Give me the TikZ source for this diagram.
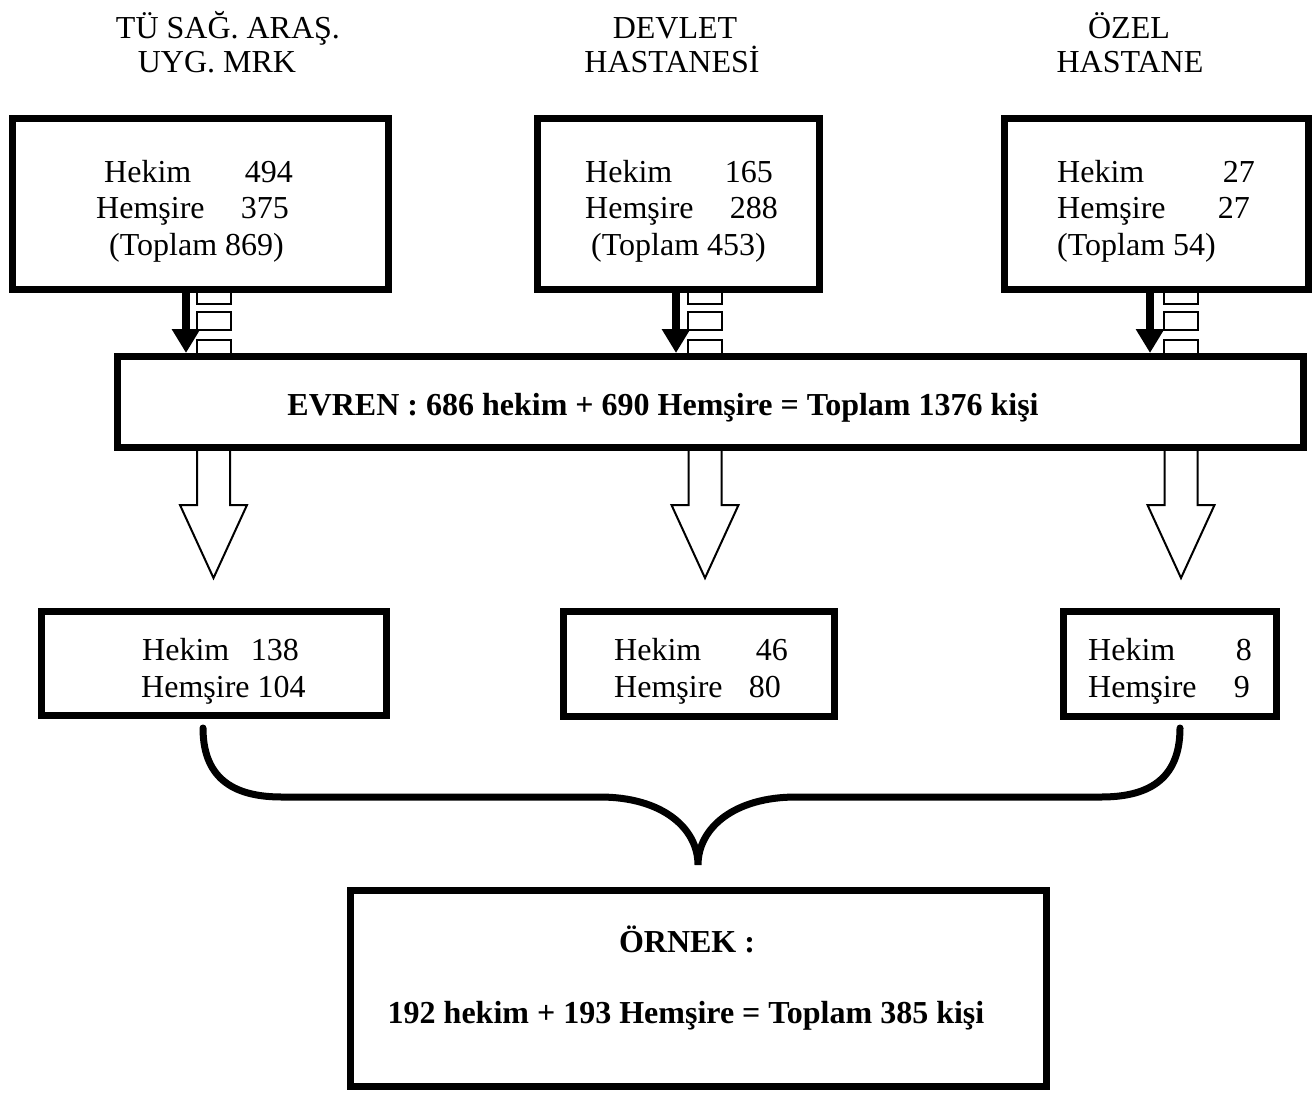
\documentclass[tikz,border=0pt]{standalone}
\usepackage{fontspec}
\setmainfont{Liberation Serif}
\usetikzlibrary{arrows.meta}
\begin{document}
\begin{tikzpicture}[x=1pt,y=-1pt,
  box/.style={draw, line width=7pt, fill=white, rectangle, inner sep=0pt},
  txt/.style={inner sep=0pt, font=\fontsize{32}{37}\selectfont},
  btxt/.style={inner sep=0pt, font=\fontsize{32}{37}\selectfont\bfseries},
  stripe/.style={draw, line width=2pt, fill=white},
  blackarrow/.style={line width=8pt, -{Triangle[width=27pt,length=24pt]}},
  hollow/.style={draw, line width=2pt, fill=white, line join=miter},
  bracestyle/.style={line width=7pt, line cap=round}]
\useasboundingbox (0,0) rectangle (1316,1092);

% headers
\node[txt, anchor=base] (h1a) at (228,38) {TÜ SAĞ. ARAŞ.};
\node[txt, anchor=base] (h1b) at (217,72) {UYG. MRK};
\node[txt, anchor=base] (h2a) at (675,38) {DEVLET};
\node[txt, anchor=base] (h2b) at (672,72) {HASTANESİ};
\node[txt, anchor=base] (h3a) at (1129,38) {ÖZEL};
\node[txt, anchor=base] (h3b) at (1130,72) {HASTANE};

% stripe rectangles (drawn first, partly hidden by boxes)
\foreach \c in {214,705,1181}{
  \draw[stripe] (\c-17,290) rectangle (\c+17,304);
  \draw[stripe] (\c-17,312) rectangle (\c+17,330);
  \draw[stripe] (\c-17,340) rectangle (\c+17,357);
}

% top boxes
\node[box, minimum width=376pt, minimum height=171pt] (t1) at (200.5,204) {};
\node[box, minimum width=282pt, minimum height=171pt] (t2) at (678.5,204) {};
\node[box, minimum width=304pt, minimum height=171pt] (t3) at (1156.5,204) {};

% evren box
\node[box, minimum width=1186pt, minimum height=91pt] (ev) at (710,402) {};

% bottom boxes
\node[box, minimum width=345pt, minimum height=104pt] (b1) at (214,663.5) {};
\node[box, minimum width=271pt, minimum height=105pt] (b2) at (699,664) {};
\node[box, minimum width=213pt, minimum height=105pt] (b3) at (1170,664) {};

% sample box
\node[box, minimum width=696pt, minimum height=196pt] (ex) at (698.5,988.5) {};

% box 1 text
\node[txt, anchor=base west] (t1l1) at (104,182) {Hekim};
\node[txt, anchor=base east] (t1n1) at (293,182) {494};
\node[txt, anchor=base west] (t1l2) at (96,218) {Hemşire};
\node[txt, anchor=base east] (t1n2) at (289,218) {375};
\node[txt, anchor=base west] (t1l3) at (109,255) {(Toplam 869)};

% box 2 text
\node[txt, anchor=base west] (t2l1) at (585,182) {Hekim};
\node[txt, anchor=base east] (t2n1) at (773,182) {165};
\node[txt, anchor=base west] (t2l2) at (585,218) {Hemşire};
\node[txt, anchor=base east] (t2n2) at (778,218) {288};
\node[txt, anchor=base west] (t2l3) at (591,255) {(Toplam 453)};

% box 3 text
\node[txt, anchor=base west] (t3l1) at (1057,182) {Hekim};
\node[txt, anchor=base east] (t3n1) at (1255,182) {27};
\node[txt, anchor=base west] (t3l2) at (1057,218) {Hemşire};
\node[txt, anchor=base east] (t3n2) at (1250,218) {27};
\node[txt, anchor=base west] (t3l3) at (1057,255) {(Toplam 54)};

% evren text
\node[btxt, anchor=base] (evt) at (663,415) {EVREN : 686 hekim + 690 Hemşire = Toplam 1376 kişi};

% bottom box texts
\node[txt, anchor=base west] (b1l1) at (142,660) {Hekim};
\node[txt, anchor=base east] (b1n1) at (299,660) {138};
\node[txt, anchor=base west] (b1l2) at (141,697) {Hemşire 104};

\node[txt, anchor=base west] (b2l1) at (614,660) {Hekim};
\node[txt, anchor=base east] (b2n1) at (788,660) {46};
\node[txt, anchor=base west] (b2l2) at (614,697) {Hemşire};
\node[txt, anchor=base east] (b2n2) at (781,697) {80};

\node[txt, anchor=base west] (b3l1) at (1088,660) {Hekim};
\node[txt, anchor=base east] (b3n1) at (1252,660) {8};
\node[txt, anchor=base west] (b3l2) at (1088,697) {Hemşire};
\node[txt, anchor=base east] (b3n2) at (1250,697) {9};

% sample text
\node[btxt, anchor=base] (ext1) at (687,952) {ÖRNEK :};
\node[btxt, anchor=base] (ext2) at (686,1023) {192 hekim + 193 Hemşire = Toplam 385 kişi};

% black arrows
\coordinate (a1) at (186,0);
\coordinate (a2) at (676,0);
\coordinate (a3) at (1150,0);
\draw[blackarrow] (t1.south -| a1) -- (ev.north -| a1);
\draw[blackarrow] (t2.south -| a2) -- (ev.north -| a2);
\draw[blackarrow] (t3.south -| a3) -- (ev.north -| a3);

% hollow arrows
\coordinate (x1) at (213.5,0);
\coordinate (x2) at (705,0);
\coordinate (x3) at (1181,0);
\foreach \p in {x1,x2,x3}{
  \draw[hollow] (ev.south -| \p) ++(-16.5,0) -- ++(0,54) -- ++(-17,0)
     -- ++(33.5,73) -- ++(33.5,-73) -- ++(-17,0) -- ++(0,-54);
}

% brace
\coordinate (brL) at (203,728);
\coordinate (brR) at (1180,728);
\coordinate (brM) at (698,865);
\draw[bracestyle] (brL) .. controls (203,782) and (238,797) .. (282,797)
  -- (600,797) .. controls (662,797) and (698,828) .. (brM)
  .. controls (698,828) and (734,797) .. (796,797)
  -- (1101,797) .. controls (1145,797) and (1180,782) .. (brR);
\end{tikzpicture}
\end{document}
